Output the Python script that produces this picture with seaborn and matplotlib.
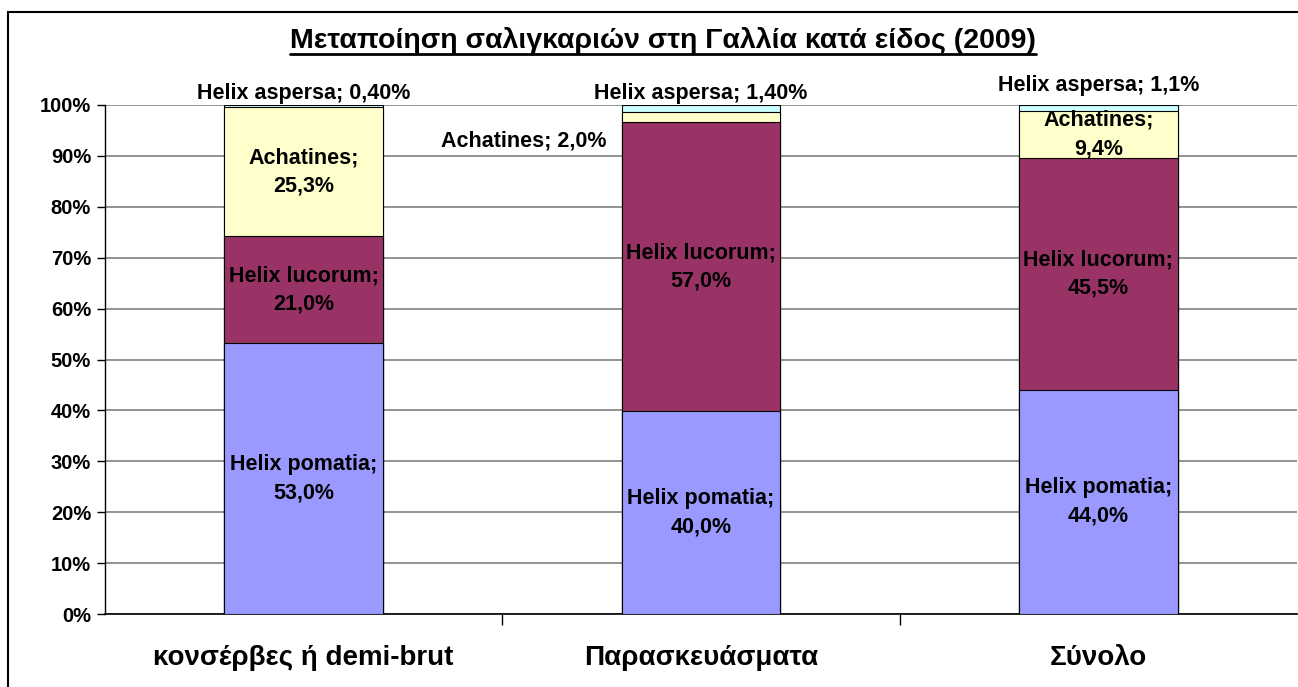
import matplotlib
matplotlib.use('Agg')
import matplotlib.pyplot as plt
import matplotlib.patches as mpatches
import matplotlib.lines as mlines
import numpy as np
import pandas as pd
import seaborn as sns

# Data
categories = ['κονσέρβες ή demi-brut', 'Παρασκευάσματα', 'Σύνολο']
series = ['Helix pomatia', 'Helix lucorum', 'Achatines', 'Helix aspersa']
pomatia = [53.0, 40.0, 44.0]
lucorum = [21.0, 57.0, 45.5]
achatines = [25.3, 2.0, 9.4]
aspersa = [0.4, 1.4, 1.1]
label_pomatia = ['53,0%', '40,0%', '44,0%']
label_lucorum = ['21,0%', '57,0%', '45,5%']
label_achatines = ['25,3%', '2,0%', '9,4%']
label_aspersa = ['0,40%', '1,40%', '1,1%']
colors = ['#9999FF', '#993366', '#FFFFCC', '#CCFFFF']
title = 'Μεταποίηση σαλιγκαριών στη Γαλλία κατά είδος (2009)'

sns.set_style('white')
plt.rcParams['font.family'] = ['Liberation Sans', 'DejaVu Sans']
plt.rcParams['font.weight'] = 'bold'
plt.rcParams['text.color'] = 'black'
plt.rcParams['xtick.color'] = 'black'
plt.rcParams['ytick.color'] = 'black'

LBL = 15.5

# Stacked 100% data
vals = np.array([pomatia, lucorum, achatines, aspersa])
pct = vals / vals.sum(axis=0) * 100
cum = pct.cumsum(axis=0)

fig = plt.figure(figsize=(12.98, 6.87), dpi=100)
ax = fig.add_axes([105 / 1298, 1 - 614 / 687, 1192 / 1298, 509 / 687])

# draw from the top layer down so the lower layers cover the upper ones
for i in range(len(series) - 1, -1, -1):
    df = pd.DataFrame({'cat': categories, 'val': cum[i]})
    sns.barplot(data=df, x='cat', y='val', color=colors[i], width=0.40,
                edgecolor='black', linewidth=0.8, saturation=1, ax=ax, zorder=3)

ax.set_ylim(0, 100)
ax.set_xlim(-0.5, 2.5)
ax.set_yticks(np.arange(0, 101, 10))
ax.set_yticklabels([f'{v}%' for v in range(0, 101, 10)], fontsize=14.5, fontweight='bold')
ax.yaxis.grid(True, color='#808080', linewidth=1.2, zorder=0)
ax.set_axisbelow(True)
ax.tick_params(axis='y', length=6, width=1, color='black', pad=4, left=True)
ax.set_xticks(range(3))
ax.set_xticklabels(categories, fontsize=20, fontweight='bold')
ax.tick_params(axis='x', which='major', length=0, pad=22)
ax.set_xticks([0.5, 1.5], minor=True)
ax.tick_params(axis='x', which='minor', length=8, width=1, color='black', bottom=True)
ax.set_xlabel('')
ax.set_ylabel('')
for s in ['top', 'right']:
    ax.spines[s].set_visible(False)
ax.spines['left'].set_color('black')
ax.spines['bottom'].set_color('black')
ax.spines['left'].set_linewidth(1)
ax.spines['bottom'].set_linewidth(1.2)

# segment labels
inside = [(0, label_pomatia), (1, label_lucorum)]
for i, labs in inside:
    for j in range(3):
        mid = cum[i][j] - pct[i][j] / 2
        ax.text(j, mid, f'{series[i]};\n{labs[j]}', ha='center', va='center',
                fontsize=LBL, fontweight='bold', linespacing=1.45, zorder=5)

for j in [0, 2]:
    mid = cum[2][j] - pct[2][j] / 2
    ax.text(j, mid, f'Achatines;\n{label_achatines[j]}', ha='center', va='center',
            fontsize=LBL, fontweight='bold', linespacing=1.45, zorder=5)
mid = cum[2][1] - pct[2][1] / 2
ax.annotate(f'Achatines; {label_achatines[1]}', xy=(1 - 0.2, mid), xytext=(-11, -17),
            textcoords='offset points', ha='right', va='center',
            fontsize=LBL, fontweight='bold', annotation_clip=False)

asp_offsets = [(0, 8), (0, 8), (0, 14)]
for j in range(3):
    ax.annotate(f'Helix aspersa; {label_aspersa[j]}', xy=(j, cum[3][j]),
                xytext=asp_offsets[j], textcoords='offset points',
                ha='center', va='center', fontsize=LBL, fontweight='bold',
                annotation_clip=False)

# title with underline
t = fig.text(663 / 1298, 1 - 40 / 687, title, ha='center', va='center',
             fontsize=20.5, fontweight='bold')
fig.canvas.draw()
bb = t.get_window_extent().transformed(fig.transFigure.inverted())
fig.add_artist(mlines.Line2D([bb.x0, bb.x1], [bb.y0 - 0.001, bb.y0 - 0.001],
                             color='black', linewidth=2, transform=fig.transFigure))

# chart frame
fig.add_artist(mpatches.Rectangle((8 / 1298, -0.1), 2, 1.1 - 12 / 687, fill=False,
                                  edgecolor='black', linewidth=1.5,
                                  transform=fig.transFigure))

fig.savefig('out.png', dpi=100)
